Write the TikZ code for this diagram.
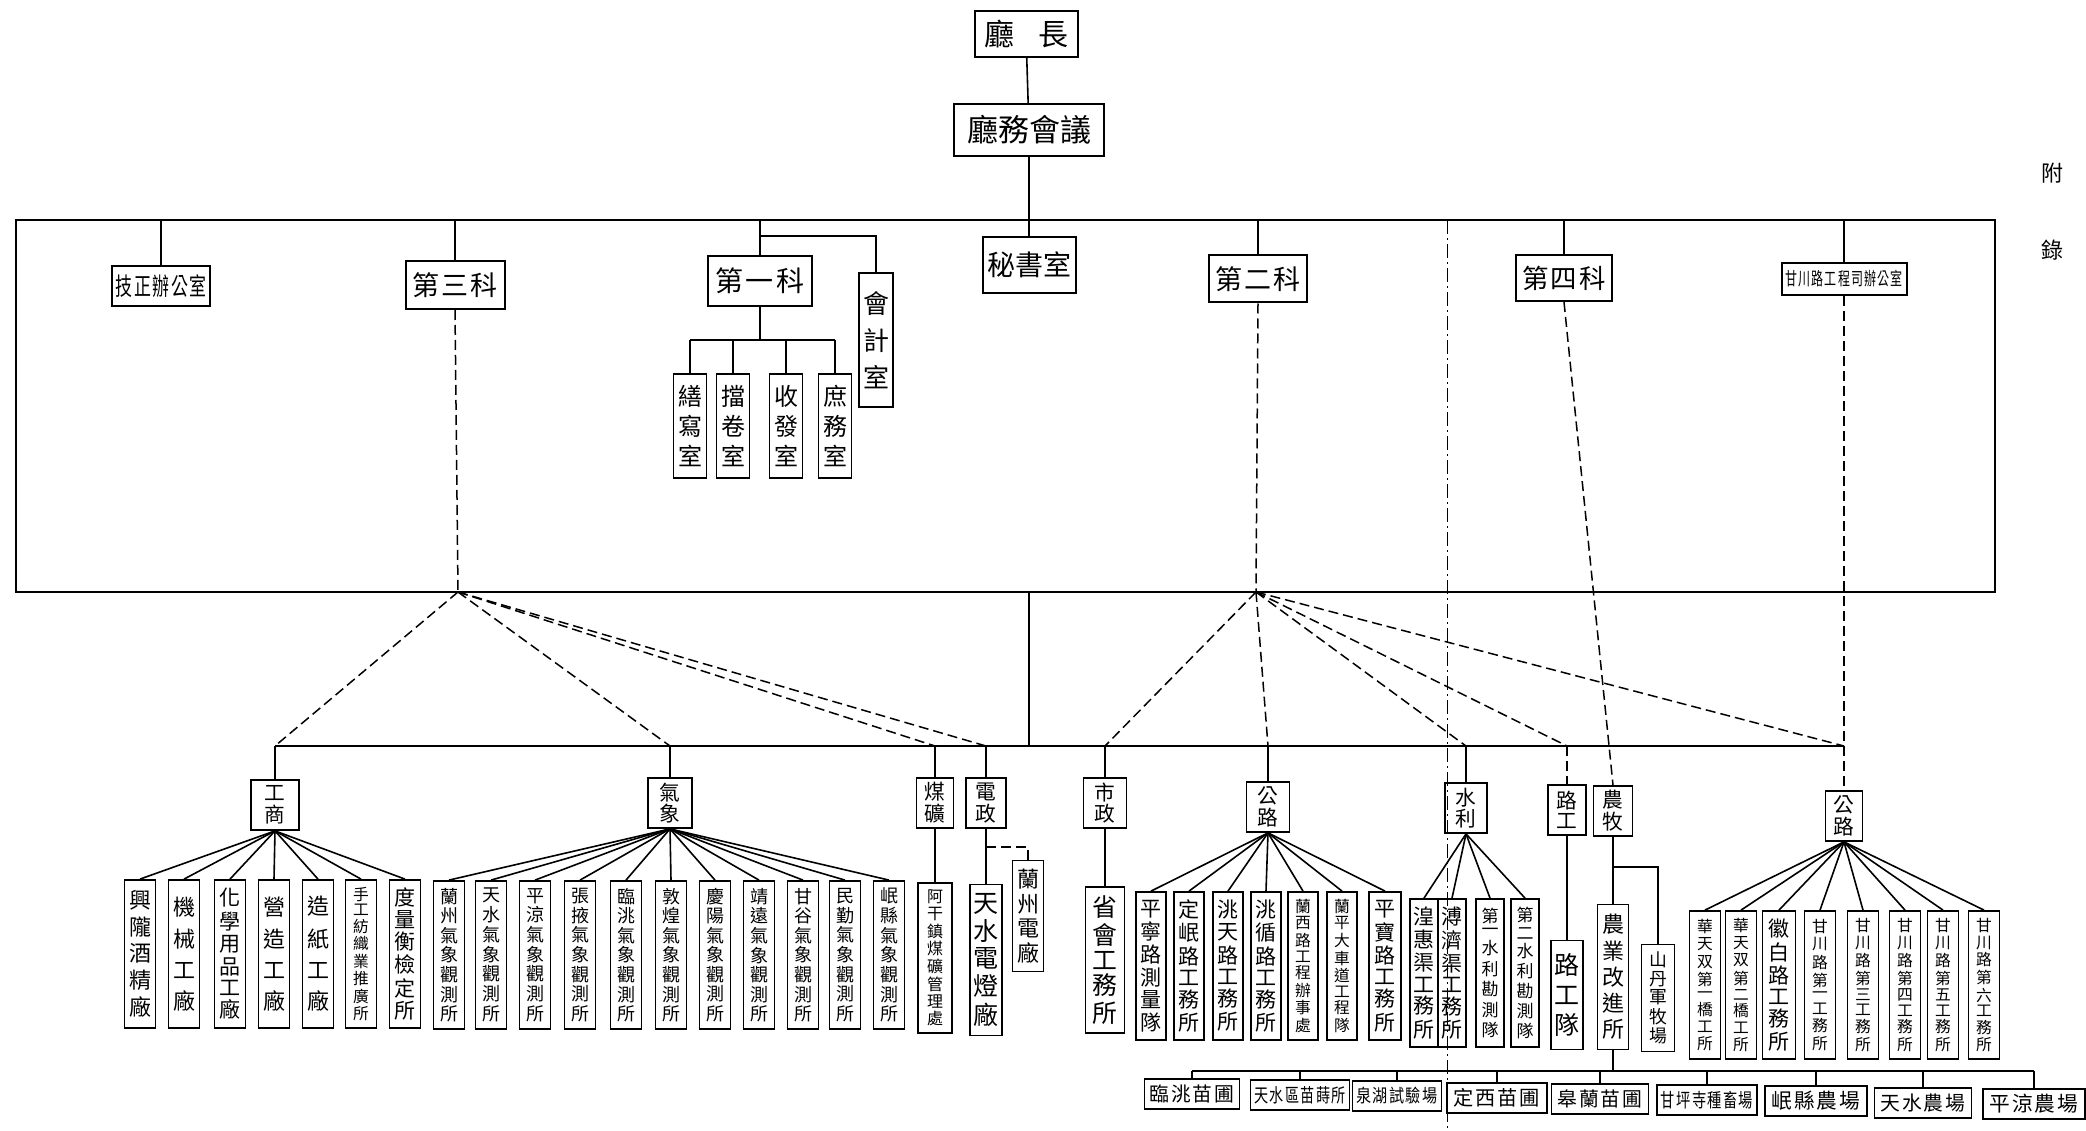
\documentclass[tikz,border=0pt]{standalone}
\usepackage{fontspec}
\setmainfont{Noto Sans CJK TC}
\usepackage{graphicx}
\usepackage{tikz}

\makeatletter
% font size so that the characters of #2 fill #1 pt
\newcommand\fitsize[2]{%
  \count@=\z@
  \@tfor\ch@r:=#2\do{\advance\count@\@ne}%
  \dimen@=#1pt
  \divide\dimen@\count@
  \dimen@=.90\dimen@
  \ifdim\dimen@>\f@size pt\dimen@=\f@size pt\fi
  \fontsize{\dimen@}{\dimen@}\selectfont}
% characters spread in a column / in a row
\newcommand\colchars[2]{\vbox to #1pt{\fitsize{#1}{#2}\offinterlineskip\vss
  \@tfor\ch@r:=#2\do{\hbox{\ch@r}\vss}}}
\newcommand\rowchars[2]{\hbox to #1pt{\fitsize{#1}{#2}\hss
  \@tfor\ch@r:=#2\do{\ch@r\hss}}}
\makeatother

\begin{document}
\begin{tikzpicture}[x=1pt, y=-1pt,
  unit/.style={draw, line width=2pt, inner sep=0pt, font=\fontsize{28}{28}\selectfont},
  post/.style={draw, line width=1.8pt, inner sep=0pt, font=\fontsize{22}{22}\selectfont},
  room/.style={post, minimum width=33pt, minimum height=104pt, font=\fontsize{24}{24}\selectfont},
  sect/.style={post, minimum height=50pt},
  leaf/.style={post, minimum width=31pt, minimum height=148pt},
  farm/.style={post, minimum height=30pt, font=\fontsize{21}{21}\selectfont},
  link/.style={line width=1.6pt},
  dlink/.style={line width=1.5pt, dash pattern=on 10pt off 5pt},
  fold/.style={line width=1pt, dash pattern=on 14pt off 4pt on 2pt off 4pt}]
  \useasboundingbox (0,0) rectangle (2086,1131);

  % head of the office
  \node[unit, minimum width=103pt, minimum height=46pt, font=\fontsize{30}{30}\selectfont] (chief) at (1026,34) {廳\hspace{24pt}長};
  \node[unit, minimum width=150pt, minimum height=52pt, font=\fontsize{31}{31}\selectfont] (council) at (1029,130) {廳務會議};

  % sections
  \node[unit, minimum width=98pt, minimum height=40pt] (jizheng) at (161,286) {\scalebox{1}[1.45]{\rowchars{94}{技正辦公室}}};
  \node[unit, minimum width=99pt, minimum height=48pt] (ke3) at (455,285) {\rowchars{90}{第三科}};
  \node[unit, minimum width=104pt, minimum height=50pt] (ke1) at (760,281) {\rowchars{94}{第一科}};
  \node[unit, minimum width=34pt, minimum height=134pt, font=\fontsize{26}{26}\selectfont] (kuaiji) at (876,340) {\colchars{124}{會計室}};
  \node[unit, minimum width=93pt, minimum height=56pt] (mishu) at (1029,265) {秘書室};
  \node[unit, minimum width=98pt, minimum height=47pt] (ke2) at (1258,279) {\rowchars{90}{第二科}};
  \node[unit, minimum width=96pt, minimum height=46pt] (ke4) at (1564,278) {\rowchars{88}{第四科}};
  \node[unit, minimum width=125pt, minimum height=32pt] (gcoffice) at (1844,279) {\scalebox{1}[1.5]{\rowchars{120}{甘川路工程司辦公室}}};
  \node[room] (shanxie) at (690,426) {\colchars{96}{繕寫室}};
  \node[room] (dangjuan) at (733,426) {\colchars{96}{擋卷室}};
  \node[room] (shoufa) at (786,426) {\colchars{96}{收發室}};
  \node[room] (shuwu) at (835,426) {\colchars{96}{庶務室}};

  % branches
  \node[sect, minimum width=48pt] (gongshang) at (275,805) {\colchars{46}{工商}};
  \node[sect, minimum width=44pt] (qixiang) at (670,803) {\colchars{46}{氣象}};
  \node[sect, minimum width=37pt] (meikuang) at (935,803) {\colchars{46}{煤礦}};
  \node[sect, minimum width=40pt] (dianzheng) at (986,803) {\colchars{46}{電政}};
  \node[sect, minimum width=43pt] (shizheng) at (1105,803) {\colchars{46}{市政}};
  \node[sect, minimum width=43pt] (gonglu1) at (1268,807) {\colchars{46}{公路}};
  \node[sect, minimum width=42pt] (shuili) at (1466,808) {\colchars{46}{水利}};
  \node[sect, minimum width=38pt] (lugong) at (1567,810) {\colchars{46}{路工}};
  \node[sect, minimum width=39pt] (nongmu) at (1613,811) {\colchars{46}{農牧}};
  \node[sect, minimum width=37pt] (gonglu2) at (1844,816) {\colchars{46}{公路}};

  % works and stations
  \node[leaf] (gs1) at (140,954) {\colchars{140}{興隴酒精廠}};
  \node[leaf] (gs2) at (184,954) {\colchars{140}{機械工廠}};
  \node[leaf] (gs3) at (230,954) {\colchars{140}{化學用品工廠}};
  \node[leaf] (gs4) at (274,954) {\colchars{140}{營造工廠}};
  \node[leaf] (gs5) at (318,954) {\colchars{140}{造紙工廠}};
  \node[leaf] (gs6) at (361,954) {\colchars{140}{手工紡織業推廣所}};
  \node[leaf] (gs7) at (405,954) {\colchars{140}{度量衡檢定所}};
  \node[leaf] (qx1) at (449,955) {\colchars{140}{蘭州氣象觀測所}};
  \node[leaf] (qx2) at (491,955) {\colchars{140}{天水氣象觀測所}};
  \node[leaf] (qx3) at (535,955) {\colchars{140}{平涼氣象觀測所}};
  \node[leaf] (qx4) at (580,955) {\colchars{140}{張掖氣象觀測所}};
  \node[leaf] (qx5) at (626,955) {\colchars{140}{臨洮氣象觀測所}};
  \node[leaf] (qx6) at (671,955) {\colchars{140}{敦煌氣象觀測所}};
  \node[leaf] (qx7) at (715,955) {\colchars{140}{慶陽氣象觀測所}};
  \node[leaf] (qx8) at (759,955) {\colchars{140}{靖遠氣象觀測所}};
  \node[leaf] (qx9) at (803,955) {\colchars{140}{甘谷氣象觀測所}};
  \node[leaf] (qx10) at (845,955) {\colchars{140}{民勤氣象觀測所}};
  \node[leaf] (qx11) at (889,955) {\colchars{140}{岷縣氣象觀測所}};
  \node[leaf, minimum width=34pt, minimum height=150pt] (agan) at (935,958) {\colchars{142}{阿干鎮煤礦管理處}};
  \node[leaf, minimum width=32pt, minimum height=151pt, font=\fontsize{25}{25}\selectfont] (tsdd) at (986,960) {\colchars{143}{天水電燈廠}};
  \node[leaf, minimum height=111pt] (lzdc) at (1028,916) {\colchars{103}{蘭州電廠}};
  \node[leaf, minimum width=39pt, minimum height=146pt, font=\fontsize{26}{26}\selectfont] (shenghui) at (1105,960) {\colchars{138}{省會工務所}};
  \node[leaf, minimum width=30pt] (gl1) at (1151,966) {\colchars{140}{平寧路測量隊}};
  \node[leaf, minimum width=30pt] (gl2) at (1189,966) {\colchars{140}{定岷路工務所}};
  \node[leaf, minimum width=30pt] (gl3) at (1228,966) {\colchars{140}{洮天路工務所}};
  \node[leaf, minimum width=30pt] (gl4) at (1266,966) {\colchars{140}{洮循路工務所}};
  \node[leaf, minimum width=30pt] (gl5) at (1303,966) {\colchars{140}{蘭西路工程辦事處}};
  \node[leaf, minimum width=30pt] (gl6) at (1342,966) {\colchars{140}{蘭平大車道工程隊}};
  \node[leaf, minimum width=32pt] (gl7) at (1385,966) {\colchars{140}{平寶路工務所}};
  \node[leaf, minimum width=28pt] (sl1) at (1424,973) {\colchars{140}{湟惠渠工務所}};
  \node[leaf, minimum width=28pt] (sl2) at (1452,973) {\colchars{140}{溥濟渠工務所}};
  \node[leaf, minimum width=28pt, font=\fontsize{17}{17}\selectfont] (sl3) at (1490,973) {\colchars{140}{第一水利勘測隊}};
  \node[leaf, minimum width=28pt, font=\fontsize{17}{17}\selectfont] (sl4) at (1525,973) {\colchars{140}{第二水利勘測隊}};
  \node[leaf, minimum width=32pt, minimum height=109pt, font=\fontsize{25}{25}\selectfont] (lgd) at (1567,995) {\colchars{101}{路工隊}};
  \node[leaf, minimum height=145pt] (nygj) at (1613,977) {\colchars{137}{農業改進所}};
  \node[leaf, minimum width=33pt, minimum height=107pt] (shandan) at (1658,998) {\colchars{99}{山丹軍牧場}};
  \node[leaf] (gr1) at (1705,985) {\colchars{140}{華天双第一橋工所}};
  \node[leaf] (gr2) at (1741,985) {\colchars{140}{華天双第二橋工所}};
  \node[leaf, minimum width=33pt] (gr3) at (1779,985) {\colchars{140}{徽白路工務所}};
  \node[leaf] (gr4) at (1820,985) {\colchars{140}{甘川路第一工務所}};
  \node[leaf] (gr5) at (1863,985) {\colchars{140}{甘川路第三工務所}};
  \node[leaf] (gr6) at (1905,985) {\colchars{140}{甘川路第四工務所}};
  \node[leaf] (gr7) at (1943,985) {\colchars{140}{甘川路第五工務所}};
  \node[leaf] (gr8) at (1984,985) {\colchars{140}{甘川路第六工務所}};

  % farms and nurseries
  \node[farm, minimum width=95pt] (by1) at (1192,1094) {\rowchars{88}{臨洮苗圃}};
  \node[farm, minimum width=99pt] (by2) at (1300,1095) {\scalebox{1}[1.35]{\rowchars{94}{天水區苗蒔所}}};
  \node[farm, minimum width=89pt] (by3) at (1397,1096) {\scalebox{1}[1.2]{\rowchars{84}{泉湖試驗場}}};
  \node[farm, minimum width=100pt] (by4) at (1497,1098) {\rowchars{90}{定西苗圃}};
  \node[farm, minimum width=97pt] (by5) at (1600,1099) {\rowchars{88}{皋蘭苗圃}};
  \node[farm, minimum width=100pt] (by6) at (1707,1100) {\scalebox{1}[1.35]{\rowchars{95}{甘坪寺種畜場}}};
  \node[farm, minimum width=102pt] (by7) at (1816,1101) {\rowchars{92}{岷縣農場}};
  \node[farm, minimum width=97pt] (by8) at (1923,1103) {\rowchars{88}{天水農場}};
  \node[farm, minimum width=102pt] (by9) at (2034,1104) {\rowchars{92}{平涼農場}};

  \node[font=\fontsize{22}{22}\selectfont] (fu) at (2052,173) {附};
  \node[font=\fontsize{22}{22}\selectfont] (lu) at (2052,250) {錄};

  % frame round the sections
  \coordinate (tl) at (16,220);
  \coordinate (br) at (1995,592);
  \coordinate (P1) at (458,592);
  \coordinate (P2) at (1256,592);
  \coordinate (L2) at (0,746);
  \draw[link] (tl) rectangle (br);
  \draw[fold] (1447,220) -- (1447,1131);

  \draw[link] (chief) -- (council);
  \draw[link] (council) -- (mishu);
  \foreach \n in {jizheng, ke3, ke1, ke2, ke4, gcoffice}
    \draw[link] (\n.north |- tl) -- (\n.north);
  \coordinate (k1fork) at (760,236);
  \draw[link] (k1fork) -| (kuaiji.north);
  \coordinate (k1bar) at (760,340);
  \draw[link] (ke1.south) -- (k1bar);
  \draw[link] (shanxie.north |- k1bar) -- (shuwu.north |- k1bar);
  \foreach \n in {shanxie, dangjuan, shoufa, shuwu}
    \draw[link] (\n.north |- k1bar) -- (\n.north);

  % lower bar
  \draw[link] (council.south |- br) -- (council.south |- L2);
  \draw[link] (gongshang.north |- L2) -- (gonglu2.north |- L2);
  \foreach \n in {gongshang, qixiang, meikuang, dianzheng, shizheng, gonglu1, shuili}
    \draw[link] (\n.north |- L2) -- (\n.north);
  \draw[dlink] (ke3.south) -- (P1);
  \draw[dlink] (ke2.south) -- (P2);
  \foreach \n in {gongshang, qixiang, meikuang, dianzheng}
    \draw[dlink] (P1) -- (\n.north |- L2);
  \foreach \n in {shizheng, gonglu1, shuili, lugong, gonglu2}
    \draw[dlink] (P2) -- (\n.north |- L2);
  \draw[dlink] (lugong.north |- L2) -- (lugong.north);
  \draw[dlink] (ke4.south) -- (nongmu.north);
  \draw[dlink] (gcoffice.south) -- (gonglu2.north);

  % fans
  \foreach \i in {1,...,7} \draw[link] (gongshang.south) -- (gs\i.north);
  \foreach \i in {1,...,11} \draw[link] (qixiang.south) -- (qx\i.north);
  \foreach \i in {1,...,7} \draw[link] (gonglu1.south) -- (gl\i.north);
  \foreach \i in {1,...,4} \draw[link] (shuili.south) -- (sl\i.north);
  \foreach \i in {1,...,8} \draw[link] (gonglu2.south) -- (gr\i.north);
  \draw[link] (meikuang) -- (agan);
  \draw[link] (dianzheng) -- (tsdd);
  \coordinate (dzfork) at (986,847);
  \draw[dlink] (dzfork) -| (lzdc.north);
  \draw[link] (shizheng) -- (shenghui);
  \draw[link] (lugong) -- (lgd);
  \draw[link] (nongmu) -- (nygj);
  \coordinate (nmfork) at (1613,867);
  \draw[link] (nmfork) -| (shandan.north);

  % nurseries
  \coordinate (bar) at (1613,1071);
  \draw[link] (nygj.south) -- (bar);
  \draw[link] (by1.north |- bar) -- (by9.north |- bar);
  \foreach \i in {1,...,9} \draw[link] (by\i.north |- bar) -- (by\i.north);
\end{tikzpicture}
\end{document}
